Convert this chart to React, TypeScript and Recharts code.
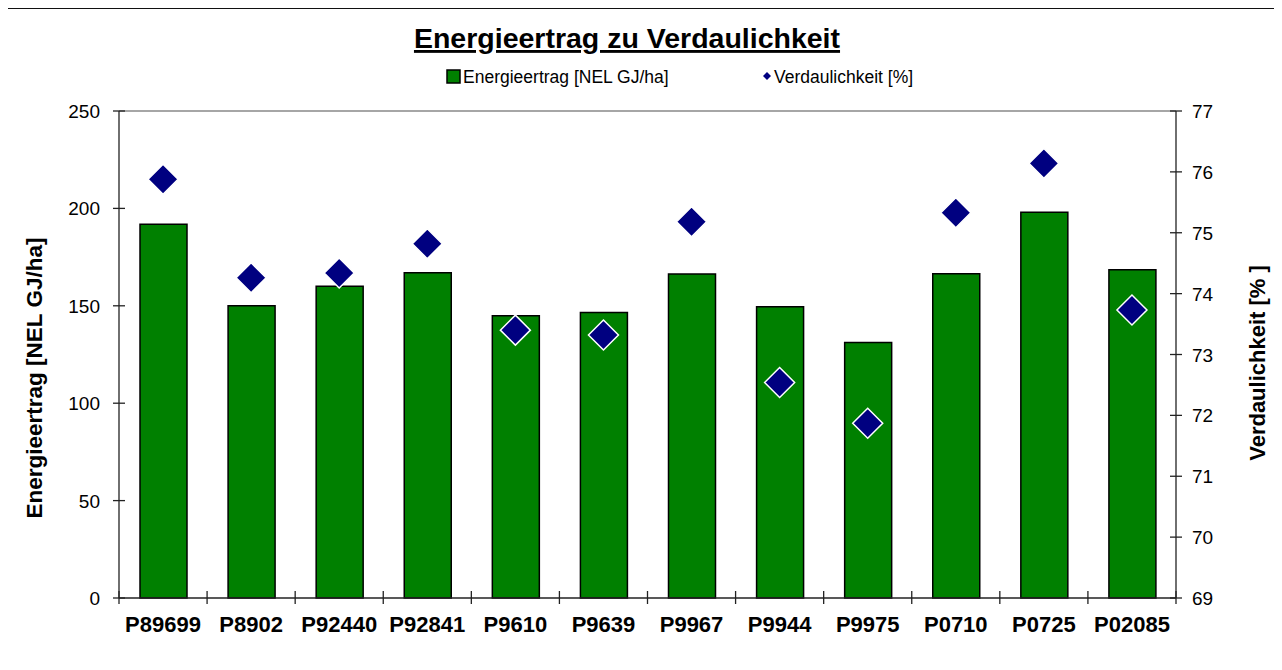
import React from 'react';
import {
  ComposedChart,
  Bar,
  Scatter,
  XAxis,
  YAxis,
  ReferenceLine,
} from 'recharts';

const FONT = '"Liberation Sans", Arial, sans-serif';

const categories = [
  'P89699', 'P8902', 'P92440', 'P92841', 'P9610', 'P9639',
  'P9967', 'P9944', 'P9975', 'P0710', 'P0725', 'P02085',
];
// Energieertrag [NEL GJ/ha]
const energie = [191.8, 150.0, 160.0, 167.0, 144.9, 146.6, 166.3, 149.5, 131.1, 166.5, 198.0, 168.5];
// Verdaulichkeit [%]
const verdau = [75.88, 74.26, 74.34, 74.82, 73.4, 73.32, 75.18, 72.54, 71.87, 75.33, 76.14, 73.73];

const leftTicks = [0, 50, 100, 150, 200, 250];
const rightTicks = [69, 70, 71, 72, 73, 74, 75, 76, 77];

const data = categories.map((name, i) => ({ name, energie: energie[i], verdau: verdau[i] }));

const W = 1282;
const H = 670;
const PLOT_LEFT = 119;
const PLOT_RIGHT = 1176;
const PLOT_BOTTOM = 598;
const BAND = (PLOT_RIGHT - PLOT_LEFT) / categories.length;

const LeftTick = (props: any) => {
  const { x, y, payload } = props;
  return (
    <g>
      <line x1={x - 6} x2={x + 6} y1={y} y2={y} stroke="#222" strokeWidth={1.3} />
      <text x={x - 19} y={y + 7} textAnchor="end" fontSize={19} fontFamily={FONT} fill="#000">
        {payload.value}
      </text>
    </g>
  );
};

const RightTick = (props: any) => {
  const { x, y, payload } = props;
  return (
    <g>
      <line x1={x - 6} x2={x + 6} y1={y} y2={y} stroke="#222" strokeWidth={1.3} />
      <text x={x + 16} y={y + 7} textAnchor="start" fontSize={19} fontFamily={FONT} fill="#000">
        {payload.value}
      </text>
    </g>
  );
};

const BottomTick = (props: any) => {
  const { x, y, payload, index } = props;
  const last = index === categories.length - 1;
  return (
    <g>
      <line x1={x - BAND / 2} x2={x - BAND / 2} y1={y - 7} y2={y + 6} stroke="#222" strokeWidth={1.3} />
      {last && <line x1={x + BAND / 2} x2={x + BAND / 2} y1={y - 7} y2={y + 6} stroke="#222" strokeWidth={1.3} />}
      <text x={x} y={y + 34} textAnchor="middle" fontSize={22} fontWeight="bold" fontFamily={FONT} fill="#000">
        {payload.value}
      </text>
    </g>
  );
};

const Diamond = (props: any) => {
  const { cx, cy } = props;
  if (cx == null || cy == null) return null;
  const r = 15;
  return (
    <polygon
      points={`${cx},${cy - r} ${cx + r},${cy} ${cx},${cy + r} ${cx - r},${cy}`}
      fill="#000080"
      stroke="#fff"
      strokeWidth={1.5}
    />
  );
};

export default function App() {
  return (
    <div style={{ position: 'relative', width: W, height: H, margin: -8, background: '#fff', fontFamily: FONT }}>
      <div
        style={{
          position: 'absolute',
          left: 4,
          top: 7,
          width: W - 4,
          height: H - 7,
          borderTop: '2px solid #111',
          borderLeft: '2px solid #555',
          boxSizing: 'border-box',
        }}
      />
      <ComposedChart
        width={W}
        height={H}
        data={data}
        margin={{ top: 111, right: W - PLOT_RIGHT - 60, bottom: H - PLOT_BOTTOM - 40, left: PLOT_LEFT - 60 }}
        style={{ position: 'absolute', left: 0, top: 0 }}
      >
        <XAxis
          dataKey="name"
          height={40}
          tickSize={0}
          tickMargin={0}
          tick={<BottomTick />}
          axisLine={{ stroke: '#222', strokeWidth: 1.3 }}
          interval={0}
        />
        <YAxis
          yAxisId="left"
          orientation="left"
          width={60}
          domain={[0, 250]}
          ticks={leftTicks}
          tickSize={0}
          tickMargin={0}
          tick={<LeftTick />}
          axisLine={{ stroke: '#222', strokeWidth: 1.3 }}
          label={{
            content: () => (
              <text
                x={34}
                y={378}
                transform="rotate(-90 34 378)"
                textAnchor="middle"
                dominantBaseline="central"
                fontSize={22.5}
                fontWeight="bold"
                fontFamily={FONT}
                fill="#000"
              >
                Energieertrag [NEL GJ/ha]
              </text>
            ),
          }}
        />
        <YAxis
          yAxisId="right"
          orientation="right"
          width={60}
          domain={[69, 77]}
          ticks={rightTicks}
          tickSize={0}
          tickMargin={0}
          tick={<RightTick />}
          axisLine={{ stroke: '#222', strokeWidth: 1.3 }}
          label={{
            content: () => (
              <text
                x={1257}
                y={363}
                transform="rotate(-90 1257 363)"
                textAnchor="middle"
                dominantBaseline="central"
                fontSize={22}
                fontWeight="bold"
                fontFamily={FONT}
                fill="#000"
              >
                Verdaulichkeit [% ]
              </text>
            ),
          }}
        />
        <ReferenceLine yAxisId="left" y={250} stroke="#888" strokeWidth={1.5} />
        <Bar
          yAxisId="left"
          dataKey="energie"
          name="Energieertrag [NEL GJ/ha]"
          fill="#008000"
          stroke="#000"
          strokeWidth={1.5}
          barSize={47}
          isAnimationActive={false}
        />
        <Scatter
          yAxisId="right"
          dataKey="verdau"
          name="Verdaulichkeit [%]"
          shape={<Diamond />}
          isAnimationActive={false}
        />
      </ComposedChart>
      <svg width={W} height={H} style={{ position: 'absolute', left: 0, top: 0, pointerEvents: 'none' }}>
        <text
          x={627}
          y={48}
          textAnchor="middle"
          fontSize={28.5}
          fontWeight="bold"
          fontFamily={FONT}
          textDecoration="underline"
          fill="#000"
        >
          Energieertrag zu Verdaulichkeit
        </text>
        <rect x={447} y={70} width={13} height={13} fill="#008000" stroke="#000" strokeWidth={1.5} />
        <text x={463} y={83} fontSize={17.5} fontFamily={FONT} fill="#000">
          Energieertrag [NEL GJ/ha]
        </text>
        <polygon points="767,72 771,76 767,80 763,76" fill="#000080" />
        <text x={774} y={83} fontSize={17.5} fontFamily={FONT} fill="#000">
          Verdaulichkeit [%]
        </text>
      </svg>
    </div>
  );
}
